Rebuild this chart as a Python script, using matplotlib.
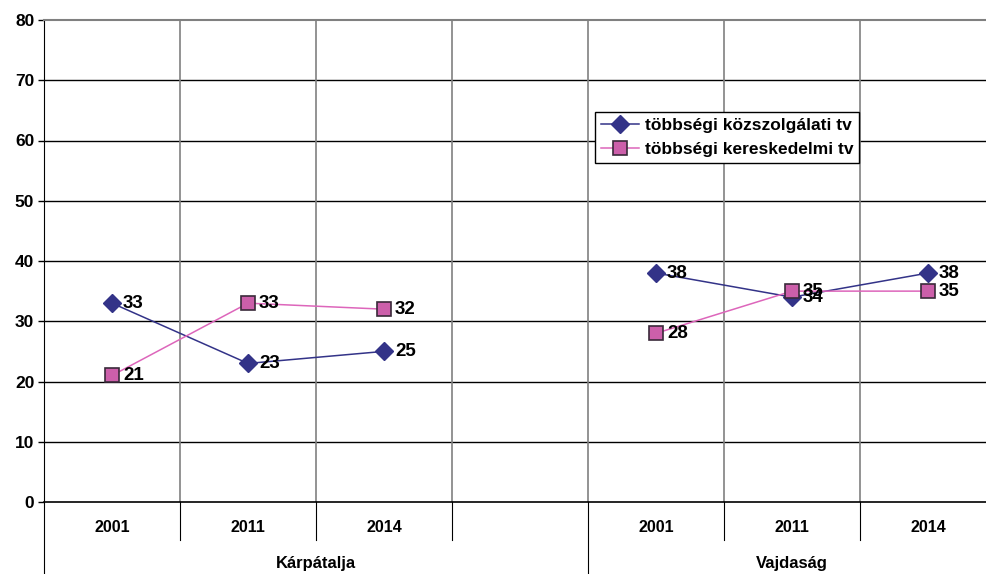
import numpy as np
import matplotlib.pyplot as plt
import matplotlib.transforms as mtransforms

plt.rcParams['font.family'] = ['Liberation Sans', 'DejaVu Sans']

# Data
years = ['2001', '2011', '2014', '', '2001', '2011', '2014']
regions = ['Kárpátalja', 'Vajdaság']
kozszolgalati = [33, 23, 25, np.nan, 38, 34, 38]
kereskedelmi = [21, 33, 32, np.nan, 28, 35, 35]
series_names = ['többségi közszolgálati tv', 'többségi kereskedelmi tv']

fig = plt.figure(figsize=(9.86, 5.74), dpi=100)
ax = fig.add_axes([44 / 986, 72 / 574, 952 / 986, 482 / 574])

x = np.arange(len(years))
navy = '#333388'
pink = '#CC5FAA'

ax.plot(x, kozszolgalati, color=navy, lw=1.1, marker='D', ms=9.5,
        mfc=navy, mec=navy, label=series_names[0], zorder=4)
ax.plot(x, kereskedelmi, color='#DD66BB', lw=1.1, marker='s', ms=9.5,
        mfc=pink, mec='#3a2a3a', mew=1.2, label=series_names[1], zorder=5)

# data labels
for xi, v in zip(x, kozszolgalati):
    if not np.isnan(v):
        ax.annotate(f'{v:.0f}', (xi, v), xytext=(8, 0), textcoords='offset points',
                    va='center', ha='left', fontsize=13.5, fontweight='bold', zorder=6)
for xi, v in zip(x, kereskedelmi):
    if not np.isnan(v):
        ax.annotate(f'{v:.0f}', (xi, v), xytext=(8, 0), textcoords='offset points',
                    va='center', ha='left', fontsize=13.5, fontweight='bold', zorder=6)

ax.set_xlim(-0.5, len(years) - 0.5)
ax.set_ylim(0, 80)
ax.set_yticks(range(0, 81, 10))
ax.tick_params(axis='y', length=4, width=1, labelsize=12.5, pad=3)
for lbl in ax.get_yticklabels():
    lbl.set_fontweight('bold')
ax.set_xticks([])

# gridlines
for yv in range(10, 80, 10):
    ax.axhline(yv, color='black', lw=1, zorder=1)
for xv in np.arange(0.5, len(years) - 0.5, 1):
    ax.axvline(xv, color='#808080', lw=1.2, zorder=1)

for s in ['top', 'right']:
    ax.spines[s].set_color('#808080')
    ax.spines[s].set_linewidth(1.5)
ax.spines['left'].set_color('black')
ax.spines['bottom'].set_color('black')
ax.spines['bottom'].set_linewidth(1.2)

# category labels under the axis
trans = mtransforms.blended_transform_factory(ax.transData, ax.transAxes)
for xi, yr in zip(x, years):
    ax.text(xi, -0.052, yr, transform=trans, ha='center', va='center',
            fontsize=11.5, fontweight='bold')
for xv in np.arange(0.5, len(years) - 0.5, 1):
    full = xv == 3.5
    ax.plot([xv, xv], [0, -0.15 if full else -0.078], transform=trans,
            color='black', lw=0.8, clip_on=False)
ax.plot([-0.5, -0.5], [0, -0.15], transform=trans, color='black', lw=0.8, clip_on=False)
ax.text(1.5, -0.127, regions[0], transform=trans, ha='center', va='center',
        fontsize=12, fontweight='bold')
ax.text(5, -0.127, regions[1], transform=trans, ha='center', va='center',
        fontsize=12, fontweight='bold')

leg = ax.legend(loc='upper left', bbox_to_anchor=(0.579, 0.809), borderaxespad=0,
                fancybox=False, framealpha=1, edgecolor='black',
                prop={'weight': 'bold', 'size': 12.5}, handlelength=2.2,
                handletextpad=0.3, borderpad=0.35, labelspacing=0.5)
leg.get_frame().set_linewidth(1)
leg.set_zorder(10)

fig.savefig('out.png', dpi=100)
